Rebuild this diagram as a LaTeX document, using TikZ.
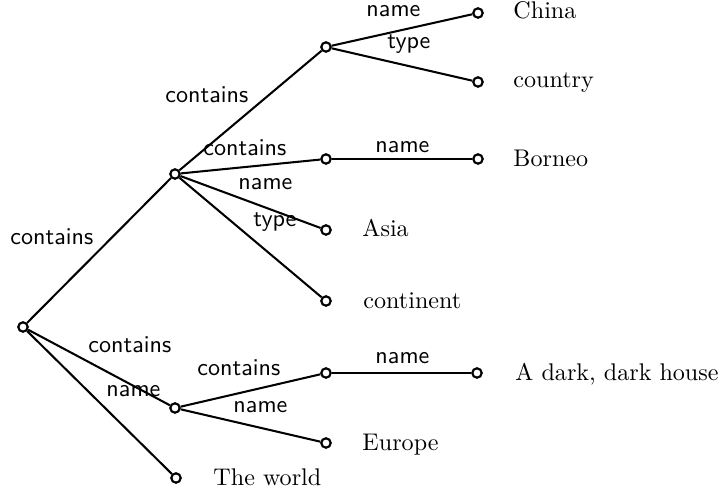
\documentclass[tikz,border=0pt]{standalone}
\begin{document}
\begin{tikzpicture}[x=0.415pt,y=-0.415pt,
  vertex/.style={circle,draw,line width=0.9pt,fill=white,inner sep=0pt,minimum size=3.9pt},
  link/.style={line width=0.85pt},
  rel/.style={anchor=base west,inner sep=0pt,font=\sffamily},
  val/.style={anchor=base west,inner sep=0pt}]
\useasboundingbox (0,0) rectangle (722,494);

% vertices of the tree
\node[vertex] (root)  at (23,327) {};
\node[vertex] (a)     at (175,174) {};
\node[vertex] (b)     at (326,47) {};
\node[vertex] (c)     at (326,159) {};
\node[vertex] (d)     at (175,408) {};
\node[vertex] (e)     at (326,373) {};
\node[vertex] (china) at (478,13) {};
\node[vertex] (ctry)  at (478,82) {};
\node[vertex] (born)  at (478,159) {};
\node[vertex] (asia)  at (326,230) {};
\node[vertex] (cont)  at (326,301) {};
\node[vertex] (house) at (477,373) {};
\node[vertex] (eur)   at (326,443) {};
\node[vertex] (world) at (176,478) {};

% connectors
\draw[link] (root) -- (a);
\draw[link] (a) -- (b);
\draw[link] (b) -- (china);
\draw[link] (b) -- (ctry);
\draw[link] (a) -- (c);
\draw[link] (c) -- (born);
\draw[link] (a) -- (asia);
\draw[link] (a) -- (cont);
\draw[link] (root) -- (d);
\draw[link] (root) -- (world);
\draw[link] (d) -- (e);
\draw[link] (e) -- (house);
\draw[link] (d) -- (eur);

% relation labels
\node[rel] (l1)  at (10,245)  {contains};
\node[rel] (l2)  at (165,103) {contains};
\node[rel] (l3)  at (366,17)  {name};
\node[rel] (l4)  at (387,49)  {type};
\node[rel] (l5)  at (203,156) {contains};
\node[rel] (l6)  at (375,153) {name};
\node[rel] (l7)  at (238,190) {name};
\node[rel] (l8)  at (253,227) {type};
\node[rel] (l9)  at (88,353)  {contains};
\node[rel] (l10) at (106,397) {name};
\node[rel] (l11) at (197,376) {contains};
\node[rel] (l12) at (375,364) {name};
\node[rel] (l13) at (233,413) {name};

% values at the leaves
\node[val] (t1) at (513,19)  {China};
\node[val] (t2) at (513,88)  {country};
\node[val] (t3) at (513,167) {Borneo};
\node[val] (t4) at (362,237) {Asia};
\node[val] (t5) at (363,309) {continent};
\node[val] (t6) at (515,381) {A dark, dark house};
\node[val] (t7) at (362,451) {Europe};
\node[val] (t8) at (213,486) {The world};
\end{tikzpicture}
\end{document}
